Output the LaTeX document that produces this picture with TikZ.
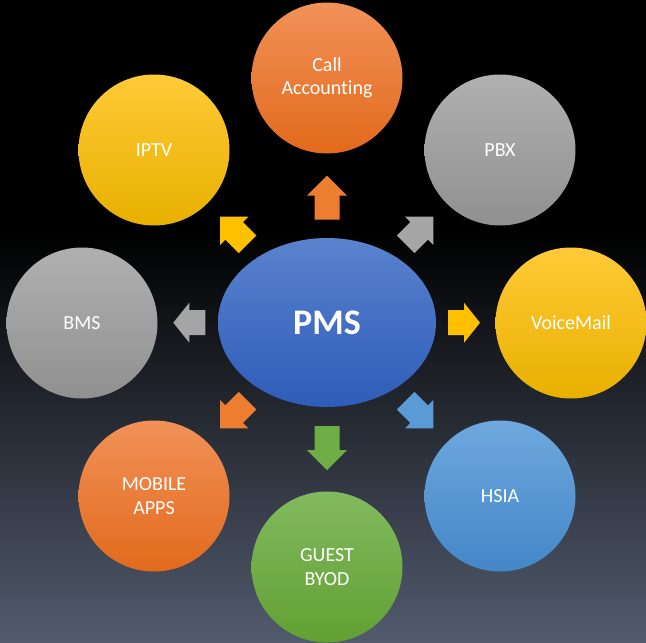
\documentclass[tikz,border=0pt]{standalone}
\usepackage{fontspec}
\setmainfont{Carlito}[Ligatures=NoCommon]
\usetikzlibrary{shapes.geometric}
\definecolor{cOrange}{RGB}{237,125,49}
\definecolor{cYellow}{RGB}{255,192,0}
\definecolor{cGray}{RGB}{165,165,165}
\definecolor{cBlue}{RGB}{91,155,213}
\definecolor{cGreen}{RGB}{112,173,71}
\definecolor{oT}{RGB}{241,145,88}\definecolor{oM}{RGB}{243,123,41}\definecolor{oB}{RGB}{226,106,28}
\definecolor{yT}{RGB}{255,202,55}\definecolor{yM}{RGB}{255,197,0}\definecolor{yB}{RGB}{232,176,0}
\definecolor{gT}{RGB}{176,176,176}\definecolor{gM}{RGB}{164,164,164}\definecolor{gB}{RGB}{144,144,144}
\definecolor{bT}{RGB}{110,168,222}\definecolor{bM}{RGB}{86,151,215}\definecolor{bB}{RGB}{68,134,200}
\definecolor{nT}{RGB}{130,185,95}\definecolor{nM}{RGB}{112,175,62}\definecolor{nB}{RGB}{98,160,50}
\definecolor{pT}{RGB}{90,130,206}\definecolor{pM}{RGB}{62,108,200}\definecolor{pB}{RGB}{46,92,184}
\definecolor{bgbot}{RGB}{82,91,110}
\pgfdeclareverticalshading{bgshade}{100bp}{color(0bp)=(bgbot); color(25bp)=(bgbot); color(57bp)=(black); color(100bp)=(black)}
\tikzset{
  circ/.style={circle, minimum size=151pt, inner sep=0pt, text=white,
    font=\fontsize{20}{23.5}\selectfont, align=center,
    top color=#1T, middle color=#1M, bottom color=#1B},
  pics/barrow/.style args={#1/#2}{code={
    \fill (0,{-#1/2}) -- (20,{-#1/2+#2}) -- (12.5,{-#1/2+#2}) -- (12.5,{#1/2})
      -- (-12.5,{#1/2}) -- (-12.5,{-#1/2+#2}) -- (-20,{-#1/2+#2}) -- cycle;
  }}
}
\begin{document}
\begin{tikzpicture}[x=1pt,y=-1pt]
\useasboundingbox (0,0) rectangle (646,643);
\fill[shading=bgshade] (0,0) rectangle (646,643);

\node[ellipse, minimum width=218pt, minimum height=169pt, inner sep=0pt,
  top color=pT, middle color=pM, bottom color=pB, text=white,
  font=\fontsize{36}{40}\selectfont\bfseries] (pms) at (327,322.5) {PMS};

\node[circ=o] (call) at (327,78) {Call\\Accounting};
\node[circ=y] (iptv) at (154,150) {IPTV};
\node[circ=g] (pbx) at (500,150) {PBX};
\node[circ=g] (bms) at (82,323) {BMS};
\node[circ=y] (vm) at (571,323) {VoiceMail};
\node[circ=o] (mob) at (154,496) {MOBILE\\APPS};
\node[circ=b] (hsia) at (500,496) {HSIA};
\node[circ=n] (guest) at (327,567) {GUEST\\BYOD};

\pic[cOrange] (aup) at (327,197.7) {barrow=44/20};
\pic[cGreen, rotate=180] (adown) at (327,448) {barrow=44/20};
\pic[cGray, rotate=90] (aleft) at (189.3,322.7) {barrow=32/16};
\pic[cYellow, rotate=-90] (aright) at (464,322.7) {barrow=32/16};
\pic[cYellow, rotate=45] (aul) at (233.8,230.5) {barrow=39/20};
\pic[cGray, rotate=-45] (aur) at (419.5,230.5) {barrow=39/20};
\pic[cOrange, rotate=135] (all) at (233.8,414.5) {barrow=39/20};
\pic[cBlue, rotate=-135] (alr) at (419.5,414.5) {barrow=39/20};
\end{tikzpicture}
\end{document}
